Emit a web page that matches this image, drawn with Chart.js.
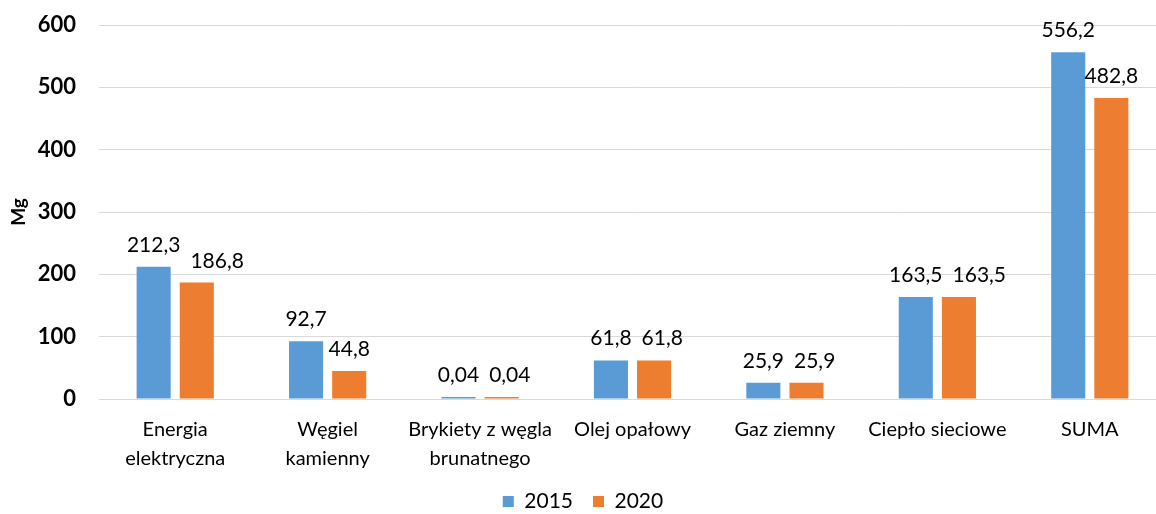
<!DOCTYPE html>
<html><head><meta charset="utf-8">
<script src="https://cdn.jsdelivr.net/npm/chart.js@4.4.1/dist/chart.umd.min.js"></script>
<style>html,body{margin:0;padding:0;overflow:hidden;background:#fff}#wrap{width:1166px;height:514px}</style>
</head><body><div id="wrap"><canvas id="c" width="1166" height="514"></canvas></div>
<script>
const categories = [
  ['Energia', 'elektryczna'],
  ['Węgiel', 'kamienny'],
  ['Brykiety z węgla', 'brunatnego'],
  'Olej opałowy',
  'Gaz ziemny',
  'Ciepło sieciowe',
  'SUMA'
];
const seriesLabels = ['2015', '2020'];
const values2015 = [212.3, 92.7, 0.04, 61.8, 25.9, 163.5, 556.2];
const values2020 = [186.8, 44.8, 0.04, 61.8, 25.9, 163.5, 482.8];
const yTicks = [0, 100, 200, 300, 400, 500, 600];
const yTitle = 'Mg';

const FONT = 'Lato, "Liberation Sans", sans-serif';
const fmt = v => String(v).replace('.', ',');

const labelPlugin = {
  id: 'valueLabels',
  afterDatasetsDraw(chart) {
    const ctx = chart.ctx;
    ctx.save();
    ctx.font = '21px ' + FONT;
    ctx.fillStyle = '#000';
    ctx.textAlign = 'center';
    ctx.textBaseline = 'alphabetic';
    const m0 = chart.getDatasetMeta(0), m1 = chart.getDatasetMeta(1);
    const d0 = chart.data.datasets[0].data, d1 = chart.data.datasets[1].data;
    m0.data.forEach((b0, j) => {
      const b1 = m1.data[j];
      const t0 = fmt(d0[j]), t1 = fmt(d1[j]);
      const w0 = ctx.measureText(t0).width, w1 = ctx.measureText(t1).width;
      let x0 = b0.x, x1 = b1.x;
      const y0 = b0.y - 15, y1 = b1.y - 15;
      // avoid overlap of neighbouring labels at similar heights
      if (Math.abs(y0 - y1) < 22) {
        const gap = (x1 - w1 / 2) - (x0 + w0 / 2);
        if (gap < 10) x1 += 10 - gap;
      }
      ctx.fillText(t0, x0, y0);
      ctx.fillText(t1, x1, y1);
    });
    ctx.restore();
  }
};

new Chart(document.getElementById('c'), {
  type: 'bar',
  data: {
    labels: categories,
    datasets: [
      { label: seriesLabels[0], data: values2015, backgroundColor: '#5B9BD5' },
      { label: seriesLabels[1], data: values2020, backgroundColor: '#ED7D31' }
    ]
  },
  options: {
    responsive: false,
    animation: false,
    devicePixelRatio: 1,
    layout: { padding: { top: 25, right: 0, left: 0, bottom: -8 } },
    datasets: { bar: { categoryPercentage: 0.566, barPercentage: 0.79, minBarLength: 2 } },
    plugins: {
      legend: {
        position: 'bottom',
        labels: {
          boxWidth: 11, boxHeight: 11, padding: 20,
          color: '#000',
          font: { family: FONT, size: 21 }
        }
      },
      tooltip: { enabled: false }
    },
    scales: {
      x: {
        grid: { display: false, drawTicks: false },
        border: { display: false },
        ticks: {
          color: '#000', autoSkip: false, maxRotation: 0, padding: 16,
          font: { family: FONT, size: 20, lineHeight: 1.45 }
        },
        afterFit(s) { s.height = 72; s.paddingTop = 0; s.paddingBottom = 0; }
      },
      y: {
        min: 0, max: 600,
        afterBuildTicks(s) { s.ticks = yTicks.map(v => ({ value: v })); },
        grid: { color: '#d9d9d9', lineWidth: 1, drawTicks: false },
        border: { display: false },
        ticks: {
          color: '#000', padding: 23,
          font: { family: FONT, size: 22, weight: 'bold' }
        },
        title: {
          display: true, text: yTitle, color: '#000',
          font: { family: FONT, size: 19, weight: 'bold' },
          padding: { top: 7, bottom: 0 }
        },
        afterFit(s) { s.width = 99; s.paddingTop = 0; s.paddingBottom = 0; }
      }
    }
  },
  plugins: [labelPlugin]
});
</script>
</body></html>
